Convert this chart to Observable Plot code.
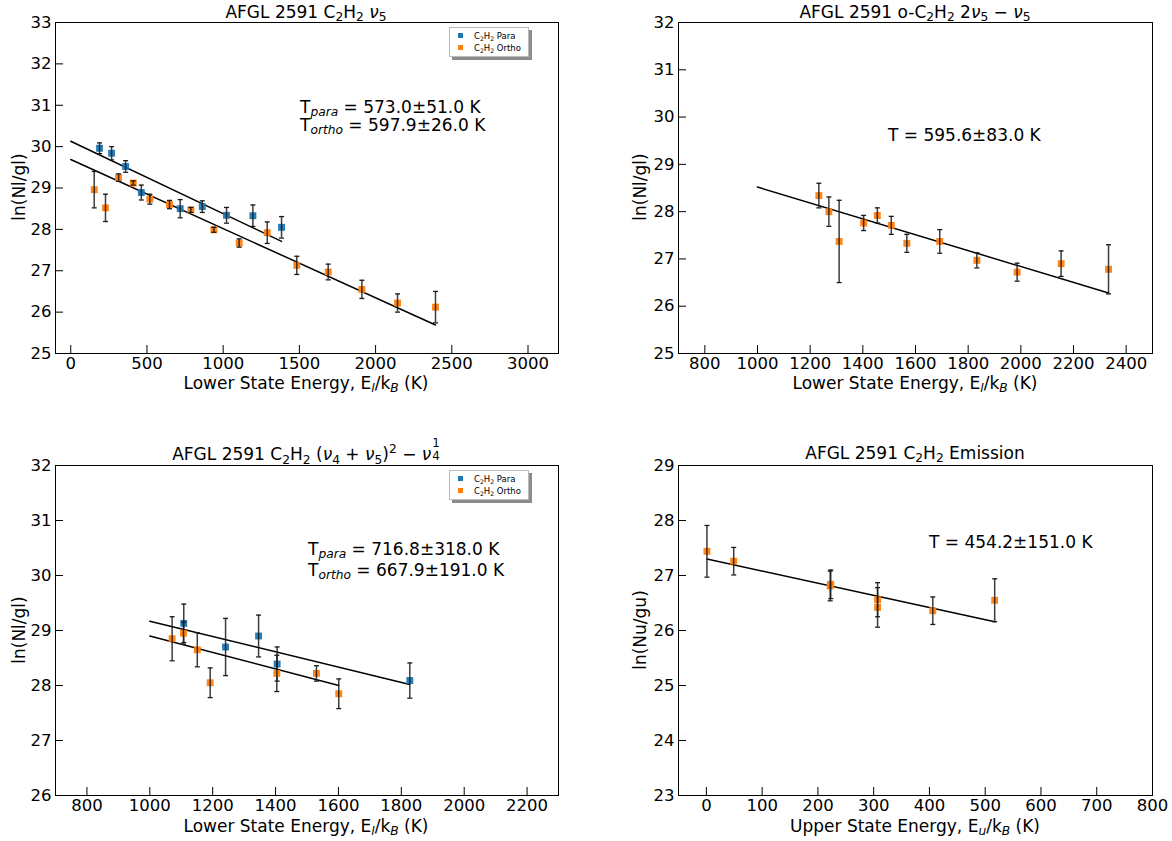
<!DOCTYPE html>
<html><head><meta charset="utf-8">
<script src="https://cdn.jsdelivr.net/npm/d3@7"></script>
<script src="https://cdn.jsdelivr.net/npm/@observablehq/plot@0.6"></script>
<style>
body{margin:0;background:#fff;}
#fig{position:relative;width:1172px;height:841px;font-family:"DejaVu Sans",sans-serif;color:#000;overflow:hidden;}
.abs{position:absolute;white-space:nowrap;font-size:17px;line-height:1;}
.c{transform:translate(-50%,-50%);}
.l{transform:translate(0,-50%);}
.rot{transform:translate(-50%,-50%) rotate(-90deg);}
sub{font-size:0.72em;line-height:0;vertical-align:-0.3em;}
sup{font-size:0.72em;line-height:0;vertical-align:0.55em;}
.ss{display:inline-block;position:relative;width:0.5em;height:1em;vertical-align:baseline;}
.ss .a{position:absolute;display:block;line-height:0.8;left:1px;top:-0.3em;font-size:0.7em;}
.ss .b{position:absolute;display:block;line-height:0.8;left:1px;top:0.72em;font-size:0.7em;}
.pw{position:absolute;}
.legend{position:absolute;background:#fff;border:1px solid #bbb;box-shadow:3px 3px 0 rgba(0,0,0,0.45);font-size:8.5px;padding:2px 7px 1px 8px;line-height:1.45;}
.legend .sw{display:inline-block;width:5px;height:5px;margin-right:11px;vertical-align:1px;}
</style>
</head><body>
<div id="fig"></div>
<script>
// ---------- data ----------
// Panel 1: AFGL 2591 C2H2 nu5
const p1ParaE   = [189, 268, 360, 463, 718, 863, 1022, 1195, 1383];
const p1ParaY   = [29.96, 29.84, 29.52, 28.89, 28.50, 28.55, 28.34, 28.33, 28.05];
const p1ParaErr = [0.13, 0.16, 0.14, 0.18, 0.22, 0.14, 0.19, 0.26, 0.26];
const p1OrthoE   = [154, 228, 314, 410, 519, 648, 788, 939, 1105, 1289, 1483, 1689, 1910, 2144, 2393];
const p1OrthoY   = [28.96, 28.52, 29.25, 29.12, 28.73, 28.60, 28.47, 27.99, 27.67, 27.92, 27.13, 26.97, 26.55, 26.22, 26.12];
const p1OrthoErr = [0.44, 0.33, 0.09, 0.05, 0.12, 0.10, 0.06, 0.06, 0.10, 0.26, 0.22, 0.19, 0.22, 0.22, 0.38];
const p1ParaFitE = [0, 1383],  p1ParaFitY = [30.13, 27.71];
const p1OrthoFitE = [0, 2393], p1OrthoFitY = [29.69, 25.69];
const p1XTicks = [0, 500, 1000, 1500, 2000, 2500, 3000];
const p1YTicks = [25, 26, 27, 28, 29, 30, 31, 32, 33];

// Panel 2: AFGL 2591 o-C2H2 2nu5 - nu5
const p2E   = [1233, 1271, 1310, 1403, 1455, 1508, 1567, 1692, 1833, 1986, 2153, 2333];
const p2Y   = [28.34, 28.00, 27.37, 27.76, 27.92, 27.71, 27.33, 27.37, 26.97, 26.72, 26.90, 26.78];
const p2Err = [0.26, 0.31, 0.87, 0.16, 0.16, 0.19, 0.19, 0.25, 0.16, 0.19, 0.27, 0.52];
const p2FitE = [1000, 2333], p2FitY = [28.52, 26.28];
const p2XTicks = [800, 1000, 1200, 1400, 1600, 1800, 2000, 2200, 2400];
const p2YTicks = [25, 26, 27, 28, 29, 30, 31, 32];

// Panel 3: AFGL 2591 C2H2 (nu4+nu5)^2 - nu4^1
const p3ParaE   = [1108, 1241, 1346, 1405, 1827];
const p3ParaY   = [29.13, 28.70, 28.90, 28.39, 28.09];
const p3ParaErr = [0.35, 0.52, 0.38, 0.31, 0.32];
const p3OrthoE   = [1071, 1107, 1151, 1192, 1404, 1530, 1601];
const p3OrthoY   = [28.85, 28.95, 28.65, 28.05, 28.22, 28.22, 27.85];
const p3OrthoErr = [0.40, 0.20, 0.31, 0.27, 0.33, 0.14, 0.27];
const p3ParaFitE = [1000, 1827],  p3ParaFitY = [29.17, 28.02];
const p3OrthoFitE = [1000, 1601], p3OrthoFitY = [28.90, 28.00];
const p3XTicks = [800, 1000, 1200, 1400, 1600, 1800, 2000, 2200];
const p3YTicks = [26, 27, 28, 29, 30, 31, 32];

// Panel 4: AFGL 2591 C2H2 Emission
const p4E   = [1, 49, 222, 223, 307, 307, 406, 517];
const p4Y   = [27.44, 27.26, 26.81, 26.84, 26.56, 26.42, 26.36, 26.55];
const p4Err = [0.47, 0.25, 0.27, 0.26, 0.31, 0.36, 0.25, 0.39];
const p4FitE = [1, 517], p4FitY = [27.30, 26.16];
const p4XTicks = [0, 100, 200, 300, 400, 500, 600, 700, 800];
const p4YTicks = [23, 24, 25, 26, 27, 28, 29];

const colPara = "#1f77b4", colOrtho = "#ff7f0e";

// ---------- helpers ----------
const rows = (E, Y, Err) => E.map((e, i) => ({x: e, y: Y[i], lo: Y[i] - Err[i], hi: Y[i] + Err[i]}));
const fitRows = (E, Y) => E.map((e, i) => ({x: e, y: Y[i]}));
const capSym = {draw(ctx) { ctx.moveTo(-2.5, 0); ctx.lineTo(2.5, 0); }};
const fig = document.getElementById("fig");

function panel({fx, fy, fw, fh, xDomain, yDomain, xTicks, yTicks, series, fits}) {
  const mL = 55, mT = 22, mR = 20, mB = 40;
  const marks = [];
  for (const f of fits) marks.push(Plot.line(f, {x: "x", y: "y", stroke: "#000", strokeWidth: 1.5}));
  for (const s of series) {
    marks.push(Plot.dot(s.data, {x: "x", y: "y", symbol: "square", r: 3.9, fill: s.color, fillOpacity: 0.95}));
    marks.push(Plot.ruleX(s.data, {x: "x", y1: "lo", y2: "hi", stroke: "#1a1a1a", strokeWidth: 1.5, strokeOpacity: 0.85}));
    marks.push(Plot.dot(s.data, {x: "x", y: "lo", symbol: capSym, r: 3, stroke: "#1a1a1a", fill: "none", strokeWidth: 1.3}));
    marks.push(Plot.dot(s.data, {x: "x", y: "hi", symbol: capSym, r: 3, stroke: "#1a1a1a", fill: "none", strokeWidth: 1.3}));
  }
  marks.push(Plot.axisX({ticks: xTicks, tickSize: -8, tickPadding: 12, fontSize: 16.5, label: null, tickFormat: d => String(d)}));
  marks.push(Plot.axisY({ticks: yTicks, tickSize: -8, tickPadding: 12, fontSize: 16.5, label: null, tickFormat: d => String(d)}));
  marks.push(Plot.frame({stroke: "#000", strokeWidth: 1}));
  const svg = Plot.plot({
    width: fw + mL + mR, height: fh + mT + mB,
    marginLeft: mL, marginTop: mT, marginRight: mR, marginBottom: mB,
    x: {domain: xDomain}, y: {domain: yDomain},
    style: {fontFamily: "DejaVu Sans, sans-serif", background: "transparent", overflow: "visible", color: "#000"},
    marks
  });
  const w = document.createElement("div");
  w.className = "pw";
  w.style.left = (fx - mL) + "px";
  w.style.top = (fy - mT) + "px";
  w.appendChild(svg);
  fig.appendChild(w);
}

function txt(html, x, y, cls) {
  const d = document.createElement("div");
  d.className = "abs " + cls;
  d.style.left = x + "px"; d.style.top = y + "px";
  d.innerHTML = html;
  fig.appendChild(d);
}
function legend(x, y) {
  const d = document.createElement("div");
  d.className = "legend";
  d.style.left = x + "px"; d.style.top = y + "px";
  d.innerHTML = `<div><span class="sw" style="background:${colPara}"></span>C<sub>2</sub>H<sub>2</sub> Para</div>` +
                `<div><span class="sw" style="background:${colOrtho}"></span>C<sub>2</sub>H<sub>2</sub> Ortho</div>`;
  fig.appendChild(d);
}

// ---------- panels ----------
panel({fx: 55, fy: 22, fw: 503, fh: 331, xDomain: [-100, 3200], yDomain: [25, 33], xTicks: p1XTicks, yTicks: p1YTicks,
  series: [{data: rows(p1ParaE, p1ParaY, p1ParaErr), color: colPara}, {data: rows(p1OrthoE, p1OrthoY, p1OrthoErr), color: colOrtho}],
  fits: [fitRows(p1ParaFitE, p1ParaFitY), fitRows(p1OrthoFitE, p1OrthoFitY)]});
panel({fx: 678, fy: 22, fw: 474, fh: 331, xDomain: [700, 2500], yDomain: [25, 32], xTicks: p2XTicks, yTicks: p2YTicks,
  series: [{data: rows(p2E, p2Y, p2Err), color: colOrtho}],
  fits: [fitRows(p2FitE, p2FitY)]});
panel({fx: 55, fy: 465, fw: 503, fh: 330, xDomain: [700, 2300], yDomain: [26, 32], xTicks: p3XTicks, yTicks: p3YTicks,
  series: [{data: rows(p3ParaE, p3ParaY, p3ParaErr), color: colPara}, {data: rows(p3OrthoE, p3OrthoY, p3OrthoErr), color: colOrtho}],
  fits: [fitRows(p3ParaFitE, p3ParaFitY), fitRows(p3OrthoFitE, p3OrthoFitY)]});
panel({fx: 678, fy: 465, fw: 474, fh: 330, xDomain: [-50, 800], yDomain: [23, 29], xTicks: p4XTicks, yTicks: p4YTicks,
  series: [{data: rows(p4E, p4Y, p4Err), color: colOrtho}],
  fits: [fitRows(p4FitE, p4FitY)]});

// ---------- titles ----------
txt(`AFGL 2591 C<sub>2</sub>H<sub>2</sub> <i>ν</i><sub>5</sub>`, 306, 12, "c");
txt(`AFGL 2591 o-C<sub>2</sub>H<sub>2</sub> 2<i>ν</i><sub>5</sub> − <i>ν</i><sub>5</sub>`, 915, 12, "c");
txt(`AFGL 2591 C<sub>2</sub>H<sub>2</sub> (<i>ν</i><sub>4</sub> + <i>ν</i><sub>5</sub>)<sup>2</sup> − <i>ν</i><span class="ss"><span class="a">1</span><span class="b">4</span></span>`, 306, 453, "c");
txt(`AFGL 2591 C<sub>2</sub>H<sub>2</sub> Emission`, 915, 453, "c");

// ---------- axis labels ----------
const xl = `Lower State Energy, E<sub><i>l</i></sub>/k<sub><i>B</i></sub> (K)`;
txt(xl, 306, 383, "c");
txt(xl, 915, 383, "c");
txt(xl, 306, 826, "c");
txt(`Upper State Energy, E<sub><i>u</i></sub>/k<sub><i>B</i></sub> (K)`, 915, 826, "c");
txt(`ln(Nl/gl)`, 19, 187, "rot");
txt(`ln(Nl/gl)`, 640, 187, "rot");
txt(`ln(Nl/gl)`, 19, 630, "rot");
txt(`ln(Nu/gu)`, 640, 630, "rot");

// ---------- annotations ----------
txt(`T<sub><i>para</i></sub> = 573.0±51.0 K`, 300, 107, "l");
txt(`T<sub><i>ortho</i></sub> = 597.9±26.0 K`, 300, 125, "l");
txt(`T = 595.6±83.0 K`, 888, 135, "l");
txt(`T<sub><i>para</i></sub> = 716.8±318.0 K`, 308, 549, "l");
txt(`T<sub><i>ortho</i></sub> = 667.9±191.0 K`, 308, 570, "l");
txt(`T = 454.2±151.0 K`, 929, 542, "l");

// ---------- legends ----------
legend(449, 27);
legend(449, 470);
</script>
</body></html>
